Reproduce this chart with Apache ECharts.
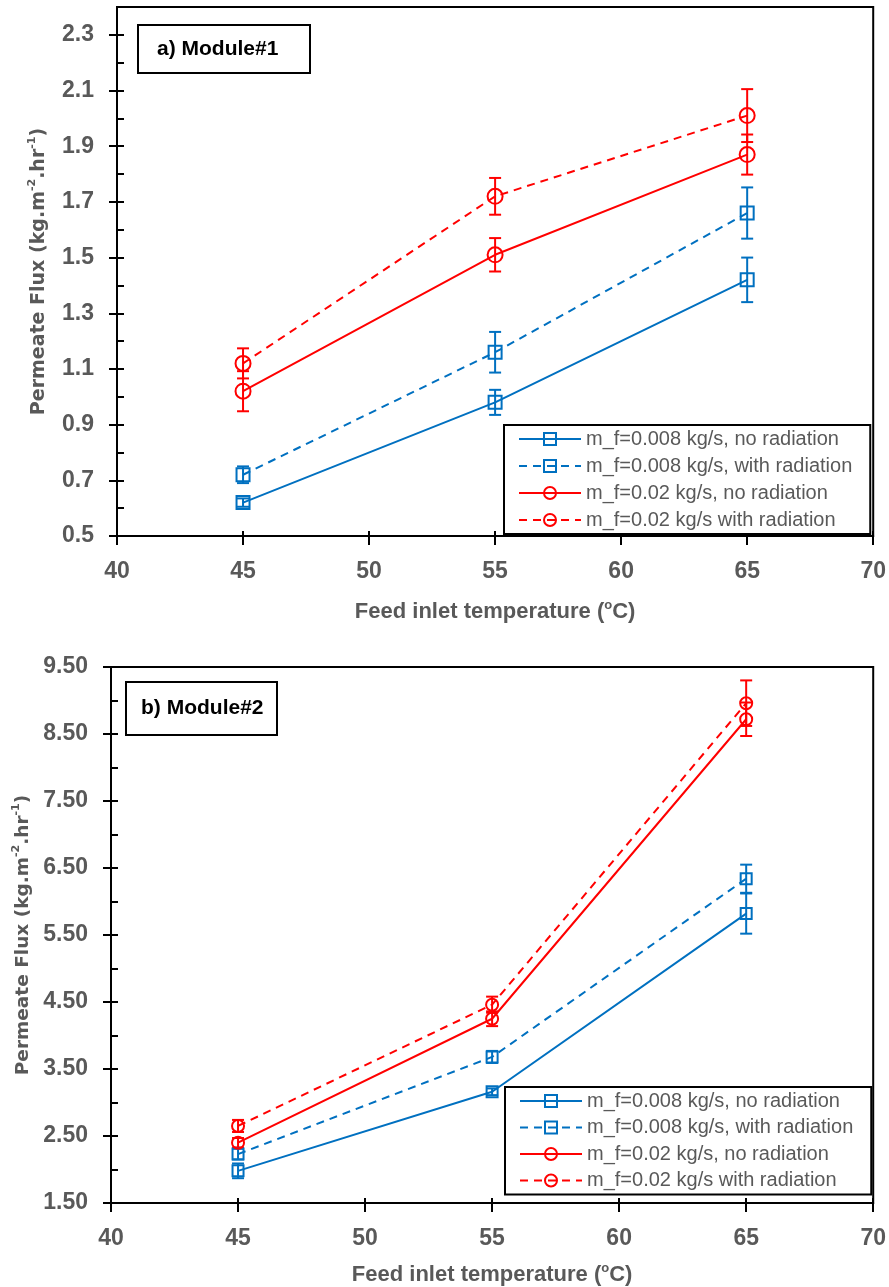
<!DOCTYPE html>
<html>
<head>
<meta charset="utf-8">
<script src="https://cdn.jsdelivr.net/npm/echarts@6/dist/echarts.min.js"></script>
<style>
  html, body { margin: 0; padding: 0; background: #fff; }
  #chart { width: 889px; height: 1287px; }
</style>
</head>
<body>
<div id="chart"></div>
<script>
// Feed inlet temperatures (°C)
const temperatures = [45, 55, 65];

// Legend / series names
const seriesNames = [
  'm_f=0.008 kg/s, no radiation',
  'm_f=0.008 kg/s, with radiation',
  'm_f=0.02 kg/s, no radiation',
  'm_f=0.02 kg/s with radiation'
];

// Module #1 permeate flux (kg.m-2.hr-1) and error half-widths
const m1Flux008NoRad   = [0.62, 0.98, 1.42];
const m1Err008NoRad    = [0.015, 0.045, 0.08];
const m1Flux008Rad     = [0.72, 1.16, 1.66];
const m1Err008Rad      = [0.03, 0.073, 0.092];
const m1Flux02NoRad    = [1.02, 1.51, 1.87];
const m1Err02NoRad     = [0.072, 0.06, 0.072];
const m1Flux02Rad      = [1.12, 1.72, 2.01];
const m1Err02Rad       = [0.054, 0.066, 0.095];

// Module #2 permeate flux (kg.m-2.hr-1) and error half-widths
const m2Flux008NoRad   = [1.98, 3.16, 5.82];
const m2Err008NoRad    = [0.11, 0.05, 0.30];
const m2Flux008Rad     = [2.23, 3.68, 6.34];
const m2Err008Rad      = [0.08, 0.09, 0.21];
const m2Flux02NoRad    = [2.40, 4.25, 8.72];
const m2Err02NoRad     = [0.07, 0.11, 0.25];
const m2Flux02Rad      = [2.65, 4.46, 8.96];
const m2Err02Rad       = [0.09, 0.12, 0.34];

// Axis ticks
const xTicks = [40, 45, 50, 55, 60, 65, 70];
const m1YTicks = [0.5, 0.7, 0.9, 1.1, 1.3, 1.5, 1.7, 1.9, 2.1, 2.3];
const m1YMinorTicks = [0.6, 0.8, 1.0, 1.2, 1.4, 1.6, 1.8, 2.0, 2.2];
const m2YTicks = [1.5, 2.5, 3.5, 4.5, 5.5, 6.5, 7.5, 8.5, 9.5];
const m2YMinorTicks = [2, 3, 4, 5, 6, 7, 8, 9];

const BLUE = '#0070C0';
const RED = '#FF0000';
const GREY = '#595959';
const LABEL_FONT = 'Liberation Sans, Arial, sans-serif';
const TITLE_FONT = 'DejaVu Sans, Verdana, sans-serif';

const chart = echarts.init(document.getElementById('chart'), null, { renderer: 'canvas' });

function pairs(values) {
  return temperatures.map((t, i) => [t, values[i]]);
}
function errPairs(values, errs) {
  return temperatures.map((t, i) => [t, values[i] - errs[i], values[i] + errs[i]]);
}

// Vertical error bar with caps at both ends
function errorBarRenderer(color) {
  return function (params, api) {
    const x = api.value(0);
    const lo = api.coord([x, api.value(1)]);
    const hi = api.coord([x, api.value(2)]);
    const w = 6;
    const style = { stroke: color, lineWidth: 2 };
    return {
      type: 'group',
      children: [
        { type: 'line', shape: { x1: lo[0], y1: lo[1], x2: hi[0], y2: hi[1] }, style: style },
        { type: 'line', shape: { x1: hi[0] - w, y1: hi[1], x2: hi[0] + w, y2: hi[1] }, style: style },
        { type: 'line', shape: { x1: lo[0] - w, y1: lo[1], x2: lo[0] + w, y2: lo[1] }, style: style }
      ]
    };
  };
}

function lineSeries(name, values, color, dashed, symbol, size, axisIdx) {
  return {
    name: name,
    type: 'line',
    xAxisIndex: axisIdx,
    yAxisIndex: axisIdx,
    data: pairs(values),
    symbol: symbol,
    symbolSize: size,
    showSymbol: true,
    z: 3,
    itemStyle: { color: 'none', borderColor: color, borderWidth: 2 },
    lineStyle: { color: color, width: 2, type: dashed ? [8, 6] : 'solid' },
    emphasis: { disabled: true },
    animation: false
  };
}

function errorSeries(values, errs, color, axisIdx) {
  return {
    type: 'custom',
    name: 'error',
    xAxisIndex: axisIdx,
    yAxisIndex: axisIdx,
    data: errPairs(values, errs),
    encode: { x: 0, y: [1, 2] },
    renderItem: errorBarRenderer(color),
    silent: true,
    z: 2,
    animation: false
  };
}

const tickLabelStyle = { color: GREY, fontSize: 23, fontWeight: 'bold', fontFamily: LABEL_FONT };

function xAxes(gridIndex, title, gap) {
  return [
    {
      gridIndex: gridIndex, type: 'value', position: 'bottom',
      min: 40, max: 70, interval: 5,
      axisLine: { show: true, onZero: false, lineStyle: { color: '#000', width: 2 } },
      axisTick: { show: true, inside: false, length: 9, lineStyle: { color: '#000', width: 2 }, customValues: xTicks },
      axisLabel: { ...tickLabelStyle, margin: 24, customValues: xTicks },
      splitLine: { show: false },
      name: title, nameLocation: 'middle', nameGap: gap,
      nameTextStyle: {
        rich: {
          t: { fontSize: 22, fontWeight: 'bold', color: GREY, fontFamily: LABEL_FONT, lineHeight: 26 },
          s: { fontSize: 13, fontWeight: 'bold', color: GREY, fontFamily: LABEL_FONT, lineHeight: 13, verticalAlign: 'top' }
        }
      }
    },
    {
      gridIndex: gridIndex, type: 'value', position: 'bottom',
      min: 40, max: 70, interval: 5,
      axisLine: { show: false, onZero: false },
      axisTick: { show: true, inside: true, length: 5, lineStyle: { color: '#000', width: 2 }, customValues: xTicks },
      axisLabel: { show: false },
      splitLine: { show: false }
    }
  ];
}

function yAxes(min, max, majors, minors, digits, title, gap, titleSize) {
  return [
    {
      type: 'value', position: 'left',
      min: min, max: max,
      axisLine: { show: true, onZero: false, lineStyle: { color: '#000', width: 2 } },
      axisTick: { show: true, inside: false, length: 8, lineStyle: { color: '#000', width: 2 }, customValues: majors },
      axisLabel: { ...tickLabelStyle, margin: 23, customValues: majors, formatter: v => Number(v).toFixed(digits) },
      splitLine: { show: false },
      name: title, nameLocation: 'middle', nameGap: gap, nameRotate: 90,
      nameTextStyle: {
        rich: {
          t: { fontSize: titleSize, fontWeight: 'bold', color: GREY, fontFamily: TITLE_FONT, lineHeight: 24 },
          s: { fontSize: Math.round(titleSize * 0.6), fontWeight: 'bold', color: GREY, fontFamily: TITLE_FONT, lineHeight: 13, verticalAlign: 'top' }
        }
      }
    },
    {
      type: 'value', position: 'left',
      min: min, max: max,
      axisLine: { show: false, onZero: false },
      axisTick: { show: true, inside: true, length: 7, lineStyle: { color: '#000', width: 2 }, customValues: majors.concat(minors) },
      axisLabel: { show: false },
      splitLine: { show: false }
    }
  ];
}

const xTitle = '{t|Feed inlet temperature (}{s|o}{t|C)}';
const yTitle = '{t|Permeate Flux (kg.m}{s|-2}{t|.hr}{s|-1}{t|)}';

function legendBox(top, left, gap) {
  return {
    orient: 'vertical',
    left: left, top: top,
    data: seriesNames,
    itemWidth: 62, itemHeight: 15, itemGap: gap,
    padding: [4, 18, 4, 14],
    borderColor: '#000', borderWidth: 2,
    backgroundColor: '#fff',
    selectedMode: false,
    textStyle: { color: GREY, fontSize: 20, fontFamily: LABEL_FONT, lineHeight: 20 }
  };
}

function titleBox(x, y, w, h, text, tx) {
  return [
    { type: 'rect', shape: { x: x, y: y, width: w, height: h }, style: { fill: '#fff', stroke: '#000', lineWidth: 2 }, z: 10 },
    { type: 'text', x: tx, y: y + h / 2, style: { text: text, font: 'bold 21px ' + LABEL_FONT, fill: '#000', verticalAlign: 'middle' }, z: 11 }
  ];
}

const topY = yAxes(0.5, 2.4, m1YTicks, m1YMinorTicks, 1, yTitle, 66, 19).map(a => ({ ...a, gridIndex: 0 }));
const bottomY = yAxes(1.5, 9.5, m2YTicks, m2YMinorTicks, 2, yTitle, 75, 18.5).map(a => ({ ...a, gridIndex: 1 }));

const option = {
  backgroundColor: '#fff',
  animation: false,
  grid: [
    { left: 117, top: 7, right: 13, bottom: 751, show: true, borderColor: '#000', borderWidth: 2 },
    { left: 111, top: 667, right: 13, bottom: 83, show: true, borderColor: '#000', borderWidth: 2 }
  ],
  xAxis: [].concat(xAxes(0, xTitle, 63), xAxes(1, xTitle, 59)),
  yAxis: [].concat(topY, bottomY),
  legend: [legendBox(425, 504, 7), legendBox(1087, 505, 6.5)],
  graphic: [].concat(
    titleBox(138, 25, 172, 48, 'a) Module#1', 157),
    titleBox(126, 682, 151, 53, 'b) Module#2', 141)
  ),
  series: [
    // Module #1
    errorSeries(m1Flux008NoRad, m1Err008NoRad, BLUE, 0),
    errorSeries(m1Flux008Rad, m1Err008Rad, BLUE, 0),
    errorSeries(m1Flux02NoRad, m1Err02NoRad, RED, 0),
    errorSeries(m1Flux02Rad, m1Err02Rad, RED, 0),
    lineSeries(seriesNames[0], m1Flux008NoRad, BLUE, false, 'rect', 13, 0),
    lineSeries(seriesNames[1], m1Flux008Rad, BLUE, true, 'rect', 13, 0),
    lineSeries(seriesNames[2], m1Flux02NoRad, RED, false, 'circle', 15, 0),
    lineSeries(seriesNames[3], m1Flux02Rad, RED, true, 'circle', 15, 0),
    // Module #2
    errorSeries(m2Flux008NoRad, m2Err008NoRad, BLUE, 2),
    errorSeries(m2Flux008Rad, m2Err008Rad, BLUE, 2),
    errorSeries(m2Flux02NoRad, m2Err02NoRad, RED, 2),
    errorSeries(m2Flux02Rad, m2Err02Rad, RED, 2),
    lineSeries(seriesNames[0], m2Flux008NoRad, BLUE, false, 'rect', 11, 2),
    lineSeries(seriesNames[1], m2Flux008Rad, BLUE, true, 'rect', 11, 2),
    lineSeries(seriesNames[2], m2Flux02NoRad, RED, false, 'circle', 12, 2),
    lineSeries(seriesNames[3], m2Flux02Rad, RED, true, 'circle', 12, 2)
  ]
};

chart.setOption(option);
</script>
</body>
</html>
